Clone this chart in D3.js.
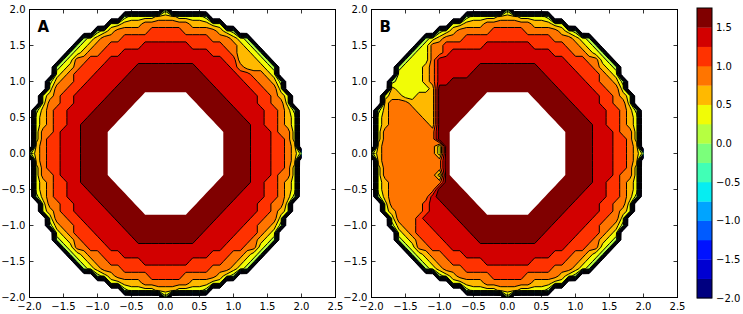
<!DOCTYPE html>
<html lang="en">
<head>
<meta charset="UTF-8">
<title>Contour panels A and B</title>
<style>
  body { margin: 0; background: #fff; }
  text { font-family: "DejaVu Sans", sans-serif; fill: #000; }
</style>
</head>
<body>
<script src="https://d3js.org/d3.v7.min.js"></script>
<div id="chart"></div>
<script>
// contour levels (shared by both panels and the colour bar)
const levels = [-2.0, -1.75, -1.5, -1.25, -1.0, -0.75, -0.5, -0.25, 0.0, 0.25, 0.5, 0.75, 1.0, 1.25, 1.5, 1.75];
const xTicks = [-2.0, -1.5, -1.0, -0.5, 0.0, 0.5, 1.0, 1.5, 2.0, 2.5];
const yTicks = [-2.0, -1.5, -1.0, -0.5, 0.0, 0.5, 1.0, 1.5, 2.0];
const cbarTicks = [-2.0, -1.5, -1.0, -0.5, 0.0, 0.5, 1.0, 1.5];
const panelNames = ["A", "B"];

// field on a 0.1 grid, x and y from -2.0 to 2.0, first row is y = 2.0
// 0-9, a-e : band index between two levels,  '.' : masked hole,  '-' : outside the disc
const gridA = [
  "--------------------8--------------------",
  "--------------89999aaa99998--------------",
  "------------99aaabbbbbbbaaa99------------",
  "----------89abbbbbcccccbbbbba98----------",
  "--------89abbbcccccccccccccbbba98--------",
  "-------89abbcccccdddddddcccccbba98-------",
  "------89abbcccdddddddddddddcccbaa98------",
  "-----89bbcccdddddddddddddddddccaaa98-----",
  "----89abcccdddddeeeeeeeeedddddcbaaa98----",
  "----9abcccdddddeeeeeeeeeeedddddccbba9----",
  "---8abbccdddddeeeeeeeeeeeeedddddccbba8---",
  "---9bbccdddddeeeeeeeeeeeeeeedddddccbb9---",
  "--9abccdddddeeeee.......eeeeedddddccba9--",
  "--9bbccddddeeeee.........eeeeeddddccbb9--",
  "-8abccddddeeeee...........eeeeeddddccba8-",
  "-9abccdddeeeee.............eeeeedddccba9-",
  "-9abccddeeeee...............eeeeeddccba9-",
  "-9bbcdddeeee.................eeeedddcbb9-",
  "-9bccdddeeee.................eeeedddccb9-",
  "-abccdddeeee.................eeeedddccba-",
  "8abccdddeeee.................eeeedddccba8",
  "-abccdddeeee.................eeeedddccba-",
  "-9bccdddeeee.................eeeedddccb9-",
  "-9bbcdddeeee.................eeeedddcbb9-",
  "-9abccddeeeee...............eeeeeddccba9-",
  "-9abccdddeeeee.............eeeeedddccba9-",
  "-8abccddddeeeee...........eeeeeddddccba8-",
  "--9bbccddddeeeee.........eeeeeddddccbb9--",
  "--9abccdddddeeeee.......eeeeedddddccba9--",
  "---9bbccdddddeeeeeeeeeeeeeeedddddccbb9---",
  "---8abbccdddddeeeeeeeeeeeeedddddccbba8---",
  "----9abcccdddddeeeeeeeeeeedddddcccba9----",
  "----89abcccdddddeeeeeeeeedddddcccba98----",
  "-----89bbcccdddddddddddddddddcccbb98-----",
  "------89abbcccdddddddddddddcccbba98------",
  "-------89abbcccccdddddddcccccbba98-------",
  "--------89abbbcccccccccccccbbba98--------",
  "----------89abbbbbcccccbbbbba98----------",
  "------------99aaabbbbbbbaaa99------------",
  "--------------89999aaa99998--------------",
  "--------------------8--------------------"
];

const gridB = [
  "--------------------8--------------------",
  "--------------89999aaa99998--------------",
  "------------99aaabbbbbbbaaa99------------",
  "----------89abbbbbcccccbbbbba98----------",
  "--------89abbbcccccccccccccbbba98--------",
  "-------89bbccccccdddddddcccccbba98-------",
  "------899bbcdddddddddddddddcccbba98------",
  "-----8999bdddddddddddddddddddcccbb98-----",
  "----8999abddddddeeeeeeeeedddddcccba98----",
  "----9999abdddddeeeeeeeeeeedddddcccba9----",
  "---89999abddeeeeeeeeeeeeeeedddddccbba8---",
  "---a99999aeeeeeeeeeeeeeeeeeedddddccbb9---",
  "--9aa99aaaeeeeeee.......eeeeedddddccba9--",
  "--abbbaaaaeeeeee.........eeeeeddddccbb9--",
  "-8abbbbaaaeeeee...........eeeeeddddccba8-",
  "-9abbbbbaaeeee.............eeeeedddccba9-",
  "-9abbbbbbaeee...............eeeeeddccba9-",
  "-9bbbbbbbbee.................eeeedddcbb9-",
  "-9bbbbbbbbee.................eeeedddccb9-",
  "-abbbbbbbb9e.................eeeedddccba-",
  "8abbbbbbbb9e.................eeeedddccba8",
  "-abbbbbbbbbe.................eeeedddccba-",
  "-9bbbbbbbbbe.................eeeedddccb9-",
  "-9bbbbbbbb9e.................eeeedddcbb9-",
  "-9abbbbbbbbee...............eeeeeddccba9-",
  "-9abbbbbbbeeee.............eeeeedddccba9-",
  "-8abbbbbbdeeeee...........eeeeeddddccba8-",
  "--9bbbbbcddeeeee.........eeeeeddddccbb9--",
  "--9abbbbcdddeeeee.......eeeeedddddccba9--",
  "---9bbbcdddddeeeeeeeeeeeeeeedddddccbb9---",
  "---8abbccdddddeeeeeeeeeeeeedddddccbba8---",
  "----9abcccdddddeeeeeeeeeeedddddcccba9----",
  "----89abcccdddddeeeeeeeeedddddcccba98----",
  "-----89bbcccdddddddddddddddddcccbb98-----",
  "------89abbcccdddddddddddddcccbba98------",
  "-------89abbcccccdddddddcccccbba98-------",
  "--------89abbbcccccccccccccbbba98--------",
  "----------89abbbbbcccccbbbbba98----------",
  "------------99aaabbbbbbbaaa99------------",
  "--------------89999aaa99998--------------",
  "--------------------8--------------------"
];

const W = 743, H = 314;
const n = 41;
const plotTop = 9.5, plotBottom = 297.5;
const outsideValue = -3;
const minus = s => s.replace("-", "\u2212");
const fmt = v => minus(d3.format(".1f")(v));

// matplotlib "jet"
function jet(t) {
  const r = t < 0.35 ? 0 : t < 0.66 ? (t - 0.35) / 0.31 : t < 0.89 ? 1 : 1 - 0.5 * (t - 0.89) / 0.11;
  const g = t < 0.125 ? 0 : t < 0.375 ? (t - 0.125) / 0.25 : t < 0.64 ? 1 : t < 0.91 ? 1 - (t - 0.64) / 0.27 : 0;
  const b = t < 0.11 ? 0.5 + 0.5 * t / 0.11 : t < 0.34 ? 1 : t < 0.65 ? 1 - (t - 0.34) / 0.31 : 0;
  return d3.rgb(255 * r, 255 * g, 255 * b).formatHex();
}
const nBands = levels.length - 1;
const bandColors = d3.range(nBands).map(k => jet(k / (nBands - 1)));

const svg = d3.select("#chart").append("svg")
  .attr("width", W).attr("height", H);

const panels = [
  { name: panelNames[0], grid: gridA, left: 29.5, right: 335.5 },
  { name: panelNames[1], grid: gridB, left: 371.5, right: 677.5 }
];

panels.forEach((p, pi) => {
  p.grid.forEach((row, r) => {
    if (row.length !== n) throw new Error(p.name + " row " + r + " has " + row.length);
  });
  if (p.grid.length !== n) throw new Error(p.name + " rows " + p.grid.length);

  const x = d3.scaleLinear().domain([-2, 2.5]).range([p.left, p.right]);
  const y = d3.scaleLinear().domain([-2, 2]).range([plotBottom, plotTop]);

  // decode grid
  const values = [], mask = [];
  p.grid.forEach(row => {
    for (const c of row) {
      if (c === ".") { values.push(levels[14] + 0.125); mask.push(1); }
      else if (c === "-") { values.push(outsideValue); mask.push(0); }
      else { values.push(levels[parseInt(c, 16)] + 0.125); mask.push(0); }
    }
  });

  // grid index -> data coords (value i sits at i + 0.5 in contour space)
  const proj = d3.geoTransform({
    point(gx, gy) {
      this.stream.point(x(-2 + (gx - 0.5) * 0.1), y(2 - (gy - 0.5) * 0.1));
    }
  });
  const path = d3.geoPath(proj);

  const clipId = "clip" + pi;
  svg.append("clipPath").attr("id", clipId)
    .append("rect")
    .attr("x", x(-2)).attr("y", y(2))
    .attr("width", x(2) - x(-2)).attr("height", y(-2) - y(2));

  const g = svg.append("g").attr("clip-path", `url(#${clipId})`);

  const bands = d3.contours().size([n, n]).thresholds(levels.slice(0, -1))(values);

  // filled bands
  g.append("g").selectAll("path")
    .data(bands)
    .join("path")
    .attr("d", path)
    .attr("fill", (d, i) => bandColors[i])
    .attr("stroke", "none");

  // masked hole
  const hole = d3.contours().size([n, n]).thresholds([0.5])(mask);
  g.append("g").selectAll("path")
    .data(hole)
    .join("path")
    .attr("d", path)
    .attr("fill", "#fff");

  // contour lines
  g.append("g").selectAll("path")
    .data(bands)
    .join("path")
    .attr("d", path)
    .attr("fill", "none")
    .attr("stroke", "#000")
    .attr("stroke-width", 1)
    .attr("stroke-linejoin", "round");

  // frame
  svg.append("rect")
    .attr("x", p.left).attr("y", plotTop)
    .attr("width", p.right - p.left).attr("height", plotBottom - plotTop)
    .attr("fill", "none").attr("stroke", "#000").attr("stroke-width", 1);

  // inward ticks on all four sides
  const tk = 4;
  const ticks = svg.append("g").attr("stroke", "#000").attr("stroke-width", 0.8);
  xTicks.forEach(v => {
    ticks.append("line").attr("x1", x(v)).attr("x2", x(v)).attr("y1", plotBottom).attr("y2", plotBottom - tk);
    ticks.append("line").attr("x1", x(v)).attr("x2", x(v)).attr("y1", plotTop).attr("y2", plotTop + tk);
  });
  yTicks.forEach(v => {
    ticks.append("line").attr("x1", p.left).attr("x2", p.left + tk).attr("y1", y(v)).attr("y2", y(v));
    ticks.append("line").attr("x1", p.right).attr("x2", p.right - tk).attr("y1", y(v)).attr("y2", y(v));
  });

  svg.append("g").selectAll("text")
    .data(xTicks)
    .join("text")
    .attr("x", d => x(d))
    .attr("y", 309.5)
    .attr("text-anchor", "middle")
    .style("font-size", "10px")
    .text(fmt);

  svg.append("g").selectAll("text")
    .data(yTicks)
    .join("text")
    .attr("x", p.left - 4)
    .attr("y", d => y(d))
    .attr("dy", "0.36em")
    .attr("text-anchor", "end")
    .style("font-size", "10px")
    .text(fmt);

  svg.append("text")
    .attr("x", p.left + 8)
    .attr("y", 31.5)
    .style("font-size", "15px")
    .style("font-weight", "bold")
    .text(p.name);
});

// colour bar
const cbLeft = 697, cbWidth = 15;
const yc = d3.scaleLinear().domain([levels[0], levels[levels.length - 1]]).range([298, 8]);
svg.append("g").selectAll("rect")
  .data(d3.range(nBands))
  .join("rect")
  .attr("x", cbLeft)
  .attr("y", k => yc(levels[k + 1]))
  .attr("width", cbWidth)
  .attr("height", k => yc(levels[k]) - yc(levels[k + 1]) + 0.3)
  .attr("fill", k => bandColors[k]);
svg.append("rect")
  .attr("x", cbLeft).attr("y", yc(levels[levels.length - 1]))
  .attr("width", cbWidth).attr("height", yc(levels[0]) - yc(levels[levels.length - 1]))
  .attr("fill", "none").attr("stroke", "#000").attr("stroke-width", 1);
svg.append("g").selectAll("text")
  .data(cbarTicks)
  .join("text")
  .attr("x", cbLeft + cbWidth + 4)
  .attr("y", d => yc(d))
  .attr("dy", "0.36em")
  .style("font-size", "10px")
  .text(fmt);
</script>
</body>
</html>
